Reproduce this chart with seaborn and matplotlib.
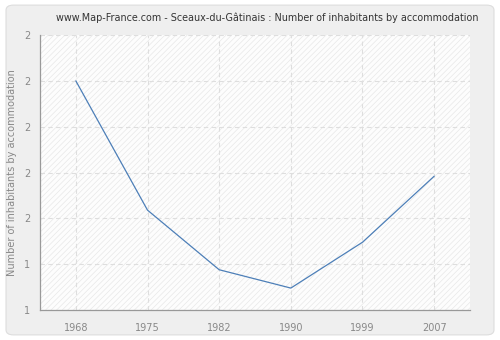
import matplotlib
matplotlib.use("Agg")
import matplotlib.pyplot as plt
import seaborn as sns
import pandas as pd
from matplotlib.patches import Rectangle, FancyBboxPatch
from matplotlib.ticker import FixedLocator, FixedFormatter

# Data
years = ["1968", "1975", "1982", "1990", "1999", "2007"]
values = [2.25, 1.545, 1.22, 1.12, 1.37, 1.73]
y_ticks = [1.0, 1.25, 1.5, 1.75, 2.0, 2.25, 2.5]
y_tick_labels = ["1", "1", "2", "2", "2", "2", "2"]
title = "www.Map-France.com - Sceaux-du-Gâtinais : Number of inhabitants by accommodation"
y_label = "Number of inhabitants by accommodation"

sns.set_style("white")
plt.rcParams["font.family"] = ["DejaVu Sans"]
plt.rcParams["hatch.linewidth"] = 0.5

df = pd.DataFrame({"year": years, "value": values})

fig = plt.figure(figsize=(5.0, 3.4), dpi=100)
fig.patch.set_facecolor("white")
bg = FancyBboxPatch((0.012, 0.015), 0.976, 0.97, boxstyle="round,pad=0,rounding_size=0.015",
                    transform=fig.transFigure, facecolor="#efefef", edgecolor="#dddddd",
                    linewidth=0.8, zorder=-10)
fig.patches.append(bg)

ax = fig.add_axes([0.08, 0.088, 0.86, 0.809])
ax.set_facecolor("white")
ax.add_patch(Rectangle((0, 0), 1, 1, transform=ax.transAxes, facecolor="#fdfdfd",
                       edgecolor="#e8e8e8", hatch="//////", linewidth=0, zorder=0))

sns.lineplot(data=df, x="year", y="value", ax=ax, color="#4d7fb8", linewidth=0.9,
             sort=False, zorder=3)

ax.set_xlim(-0.5, 5.5)
ax.set_ylim(1.0, 2.5)
ax.yaxis.set_major_locator(FixedLocator(y_ticks))
ax.yaxis.set_major_formatter(FixedFormatter(y_tick_labels))

ax.grid(True, color="#dedede", linestyle=(0, (4, 3)), linewidth=0.8, zorder=1)
ax.set_axisbelow(True)

for s in ["top", "right"]:
    ax.spines[s].set_visible(False)
for s in ["left", "bottom"]:
    ax.spines[s].set_color("#999999")
    ax.spines[s].set_linewidth(0.9)

ax.tick_params(axis="both", which="major", direction="out", length=4, width=0.8,
               color="#999999", labelcolor="#888888", labelsize=7, pad=3)
ax.tick_params(axis="x", pad=5)
ax.set_xlabel("")
ax.set_ylabel(y_label, color="#888888", fontsize=7, labelpad=5)

fig.text(0.534, 0.947, title, ha="center", va="center", fontsize=6.9, color="#333333")

fig.savefig("out.png", dpi=100, facecolor=fig.get_facecolor())
